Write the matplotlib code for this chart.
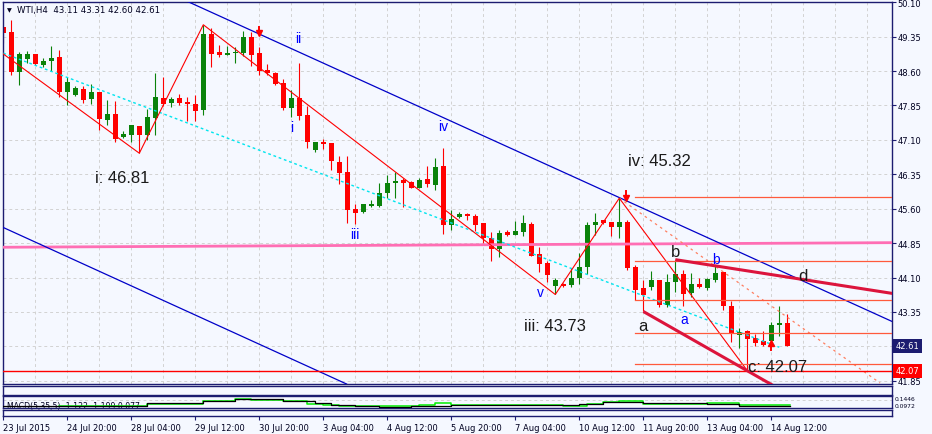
# WTI H4 chart (MT4 style)

import numpy as np
import matplotlib
matplotlib.use('Agg')
import matplotlib.pyplot as plt
from matplotlib.transforms import blended_transform_factory

# H4 candles, bar 0 = 23 Jul 2015
opens = [49.56, 49.45, 48.58, 48.87, 48.97, 48.74, 48.82, 48.90, 48.15, 48.08,
         48.21, 47.99, 48.14, 47.54, 47.66, 47.17, 47.21, 47.41, 47.21, 47.57,
         48.01, 47.91, 48.01, 47.93, 47.88, 47.75, 49.40, 49.01, 48.96, 48.99,
         49.00, 49.35, 48.99, 48.62, 48.55, 48.33, 47.79, 48.01, 47.64, 46.87,
         47.05, 47.03, 46.61, 46.40, 45.59, 45.53, 45.66, 45.65, 45.94, 46.16,
         46.23, 46.19, 46.05, 46.25, 46.12, 46.53, 45.25, 45.41, 45.48, 45.44,
         45.29, 44.97, 44.72, 45.09, 45.03, 45.09, 45.27, 44.61, 44.41, 43.92,
         43.96, 43.94, 44.09, 44.32, 45.25, 45.36, 45.32, 45.20, 45.32, 44.33,
         43.87, 43.89, 44.05, 43.51, 44.00, 44.17, 43.76, 43.96, 43.87, 44.05,
         44.22, 43.49, 42.85, 42.94, 42.78, 42.71, 42.71, 43.06, 43.11]
highs = [49.56, 49.71, 49.01, 49.03, 48.97, 48.88, 49.14, 49.06, 48.48, 48.27,
         48.27, 48.32, 48.14, 47.97, 47.94, 47.30, 47.43, 47.41, 47.78, 48.55,
         48.48, 48.03, 48.10, 48.03, 48.08, 49.61, 49.53, 49.16, 49.15, 49.13,
         49.48, 49.45, 49.13, 48.75, 48.57, 48.42, 48.18, 48.77, 47.83, 47.06,
         47.12, 47.03, 46.74, 46.74, 45.70, 45.70, 45.78, 46.16, 46.33, 46.41,
         46.27, 46.20, 46.28, 46.54, 46.70, 46.92, 45.57, 45.52, 45.50, 45.48,
         45.29, 45.10, 45.13, 45.13, 45.33, 45.47, 45.31, 44.76, 44.45, 44.09,
         43.98, 44.30, 44.63, 45.32, 45.50, 45.36, 45.32, 45.83, 45.36, 44.38,
         44.05, 44.25, 44.05, 44.17, 44.49, 44.27, 44.20, 44.10, 44.09, 44.36,
         44.23, 43.58, 43.00, 42.96, 42.87, 42.94, 43.13, 43.49, 43.31]
lows = [49.21, 48.51, 48.30, 48.77, 48.74, 48.69, 48.61, 48.03, 47.85, 48.05,
        47.90, 47.88, 47.32, 47.43, 47.05, 47.14, 47.05, 46.81, 47.10, 47.20,
        47.84, 47.81, 47.86, 47.52, 47.52, 47.64, 48.68, 48.91, 48.95, 48.77,
        48.92, 48.72, 48.52, 48.52, 48.30, 47.75, 47.59, 47.54, 46.92, 46.83,
        46.90, 46.45, 46.14, 45.29, 45.26, 45.50, 45.63, 45.63, 45.83, 45.83,
        45.63, 46.05, 46.05, 46.08, 46.01, 45.05, 45.14, 45.40, 45.36, 45.12,
        44.85, 44.46, 44.54, 45.01, 45.02, 45.00, 44.56, 44.22, 44.00, 43.73,
        43.89, 43.90, 43.96, 44.17, 45.03, 45.26, 45.00, 44.96, 44.27, 43.61,
        43.36, 43.83, 43.45, 43.45, 43.78, 43.49, 43.67, 43.87, 43.83, 44.00,
        43.40, 42.69, 42.56, 42.07, 42.60, 42.60, 42.63, 42.82, 42.60]
closes = [49.43, 48.58, 48.97, 48.97, 48.76, 48.82, 48.88, 48.15, 48.36, 48.23,
          47.97, 48.14, 47.56, 47.66, 47.11, 47.22, 47.42, 47.20, 47.59, 48.03,
          47.88, 47.99, 47.90, 47.88, 47.73, 49.40, 48.97, 48.95, 48.99, 49.01,
          49.34, 48.95, 48.60, 48.55, 48.32, 47.79, 48.01, 47.62, 47.06, 47.05,
          47.01, 46.63, 46.37, 45.57, 45.50, 45.70, 45.71, 45.94, 46.16, 46.21,
          46.16, 46.06, 46.23, 46.14, 46.50, 45.25, 45.37, 45.48, 45.44, 45.25,
          44.96, 44.72, 45.07, 45.03, 45.12, 45.29, 44.58, 44.40, 44.16, 44.05,
          43.91, 44.10, 44.32, 45.24, 45.31, 45.29, 45.20, 45.32, 44.30, 43.83,
          43.71, 44.05, 43.51, 44.00, 44.17, 43.74, 43.96, 43.89, 44.07, 44.20,
          43.47, 42.87, 42.91, 42.76, 42.67, 42.63, 43.06, 43.11, 42.61]

time_labels = ['23 Jul 2015', '24 Jul 20:00', '28 Jul 04:00', '29 Jul 12:00',
               '30 Jul 20:00', '3 Aug 04:00', '4 Aug 12:00', '5 Aug 20:00',
               '7 Aug 04:00', '10 Aug 12:00', '11 Aug 20:00', '13 Aug 04:00',
               '14 Aug 12:00']
price_ticks = [50.10, 49.35, 48.60, 47.85, 47.10, 46.35, 45.60, 44.85,
               44.10, 43.35, 42.60, 41.85]

# wave zigzag (bar, price)
zz_bars = [-1, 17, 25, 69, 77, 93]
zz_prices = [49.10, 46.81, 49.61, 43.73, 45.83, 42.07]

# trend lines (bar, price) pairs
chan_upper = [(23, 50.12), (111, 43.15)]
chan_lower = [(0, 45.19), (40, 42.01)]
pink_line = [(0, 44.76), (111, 44.86)]
cyan_line = [(0, 48.99), (97, 42.58)]
dash_line = [(77, 45.83), (109.6, 41.80)]
top_wedge = [(84, 44.49), (112, 43.73)]
low_wedge = [(80, 43.36), (97, 41.67)]

fib_levels = [45.85, 44.46, 43.60, 42.90, 42.21]
support = 42.07

# fractal arrows (bar, price of arrow tip)
frac_down = [(32, 49.37), (77.9, 45.78)]
frac_up = [(96, 42.72)]

# MACD(5,35,5) step lines
macd_bars = [0, 18, 25, 29, 35, 37, 39, 41, 44, 47, 51, 56, 72, 75, 77, 80, 88, 92, 98.4]
macd_main = [-1.2, -0.7, -0.36, -0.105, -0.36, -0.45, -0.705, -1.0, -1.2, -1.35,
             -1.11, -1.0, -0.855, -0.51, -0.51, -0.705, -0.855, -1.11, -1.11]
sig_bars = [7, 18, 25, 29, 31, 35, 38, 40, 42, 47, 52, 54, 56, 64, 70, 73, 75, 77,
            80, 88, 92, 97, 98.4]
macd_sig = [-1.2, -0.855, -0.36, -0.105, -0.25, -0.45, -0.855, -1.0, -1.2, -1.11,
            -0.96, -0.7, -1.0, -0.96, -1.2, -0.855, -0.51, -0.36, -0.81, -0.7,
            -1.0, -0.96, -0.96]

bg = '#f5f8ff'
navy = '#1c1c70'
bull = '#0a820a'
bear = '#ff0000'

W, H = 932, 435
fig = plt.figure(figsize=(W / 100, H / 100), dpi=100, facecolor=bg)

def box(x0, y0, x1, y1):
    return [x0 / W, 1 - y1 / H, (x1 - x0) / W, (y1 - y0) / H]

ax = fig.add_axes(box(3, 2.5, 892, 385))
axA = fig.add_axes(box(3, 387.3, 892, 395.7))
axM = fig.add_axes(box(3, 397.3, 892, 409.3))
axC = fig.add_axes(box(3, 411.3, 892, 417.3))

xlim = (-0.04, 111.09)
for a in (ax, axA, axM, axC):
    a.set_facecolor(bg)
    a.set_xlim(xlim)
    for s in a.spines.values():
        s.set_color(navy)
        s.set_linewidth(1)
    a.tick_params(left=False, labelleft=False, bottom=False, labelbottom=False)

# main price panel
ax.set_ylim(41.779, 50.117)
ax.set_xticks(np.arange(0, 112, 4))
ax.yaxis.tick_right()
ax.set_yticks(price_ticks)
# 42.60 sits under the last price box
ax.set_yticklabels(['' if p == 42.60 else '%.2f' % p for p in price_ticks])
ax.tick_params(axis='y', right=True, labelright=True, length=3, width=0.8,
               color=navy, labelsize=6, pad=1, labelcolor='#000020')
ax.grid(True, ls=(0, (3, 3)), color='#d2d2d2', lw=0.7)
ax.set_axisbelow(True)

x = np.arange(len(opens))
o, h, l, c = map(np.array, (opens, highs, lows, closes))
col = np.where(c >= o, bull, bear)
ax.vlines(x, l, h, colors=col, lw=0.8, zorder=2)
body = np.maximum(np.abs(c - o), 0.018)
ax.bar(x, body, bottom=np.minimum(o, c), width=0.62, color=col, lw=0, zorder=2)

# objects
ax.axline(*pink_line, color='#ff6eb4', lw=2, zorder=3)
ax.axline(*chan_upper, color='#0000c8', lw=0.9, zorder=3)
ax.axline(*chan_lower, color='#0000c8', lw=0.9, zorder=3)
ax.plot(*zip(*cyan_line), color='#00e5ee', lw=1, ls=(0, (2, 2)), zorder=3)
ax.plot(*zip(*dash_line), color='#ff7f60', lw=0.9, ls=(0, (2, 3)), zorder=3)
ax.plot(zz_bars, zz_prices, color='#ff0000', lw=0.8, zorder=3)
for lv in fib_levels:
    ax.plot([79, 112], [lv, lv], color='#ff5a3c', lw=0.9, zorder=3)
ax.axhline(support, color='#ff0000', lw=1, zorder=3)
ax.plot(*zip(*top_wedge), color='#dc143c', lw=2.2, zorder=3, solid_capstyle='butt')
ax.plot(*zip(*low_wedge), color='#dc143c', lw=2.2, zorder=3, solid_capstyle='butt')

# fractal arrows: stem plus head
for bx, p in frac_down:
    ax.plot([bx, bx], [p + 0.08, p + 0.2], color='#ff0000', lw=1.4, zorder=5)
    ax.plot(bx, p + 0.05, marker='v', ms=5, color='#ff0000', zorder=5)
for bx, p in frac_up:
    ax.plot([bx, bx], [p - 0.08, p - 0.2], color='#ff0000', lw=1.4, zorder=5)
    ax.plot(bx, p - 0.05, marker='^', ms=5, color='#ff0000', zorder=5)

# wave labels
big = dict(fontsize=12, family='Liberation Sans', color='#1a1a1a', ha='center',
           va='center', zorder=5)
ax.text(14.9, 46.28, 'i: 46.81', **big)
ax.text(82.0, 46.66, 'iv: 45.32', **big)
ax.text(69.0, 43.05, 'iii: 43.73', **big)
ax.text(96.8, 42.17, 'c: 42.07', **big)
ax.text(84.0, 44.66, 'b', **big)
ax.text(80.0, 43.06, 'a', **big)
ax.text(100.0, 44.15, 'd', **big)

small = dict(fontsize=10, family='Liberation Sans', color='#0000ff', ha='center',
             va='center', zorder=5)
ax.text(36.9, 49.32, 'ii', **small)
ax.text(36.0, 47.38, 'i', **small)
ax.text(44.0, 45.05, 'iii', **small)
ax.text(55.0, 47.40, 'iv', **small)
ax.text(67.1, 43.78, 'v', **small)
ax.text(85.1, 43.19, 'a', **small)
ax.text(89.1, 44.50, 'b', **small)

# price boxes on the right scale
tr = blended_transform_factory(ax.transAxes, ax.transData)
ax.text(1.004, c[-1], '%.2f' % c[-1], transform=tr, fontsize=6, color='white',
        ha='left', va='center', clip_on=False, zorder=6,
        bbox=dict(boxstyle='square,pad=0.3', fc=navy, ec='none'))
ax.text(1.004, support, '%.2f' % support, transform=tr, fontsize=6, color='white',
        ha='left', va='center', clip_on=False, zorder=6,
        bbox=dict(boxstyle='square,pad=0.3', fc='#ff0000', ec='none'))

# header
fig.text(7 / W, 1 - 11 / H, '▼', fontsize=4.5, color='#000020', va='center')
fig.text(17 / W, 1 - 11 / H,
         'WTI,H4  %.2f %.2f %.2f %.2f' % (o[-1], h[-1], l[-1], c[-1]),
         fontsize=6.2, color='#000020', va='center')

# MACD panel
axM.set_ylim(-1.5, 0.3)
axM.axhline(-0.2, color='#d2d2d2', lw=0.7, ls=(0, (3, 3)))
axM.text(0.5, -1.12, 'MACD(5,35,5) -1.122 -1.199 0.077', fontsize=5.6,
         color='#000020', va='center', ha='left', zorder=1)
axM.step(sig_bars, macd_sig, where='post', color='#00ee00', lw=1.1, zorder=2)
axM.step(macd_bars, macd_main, where='post', color='#000000', lw=0.9, zorder=3)
fig.text(895 / W, 1 - 400 / H, '0.1446', fontsize=4.3, color='#000020', va='center')
fig.text(895 / W, 1 - 406.5 / H, '0.0972', fontsize=4.3, color='#000020', va='center')

# time scale
axC.set_xticks(np.arange(0, 97, 8))
axC.set_xticklabels(time_labels, ha='left')
axC.tick_params(axis='x', bottom=True, labelbottom=True, length=3, width=0.8,
                color=navy, labelsize=6, pad=1.5, labelcolor='#000020')

fig.savefig('out.png', dpi=100, facecolor=bg)
